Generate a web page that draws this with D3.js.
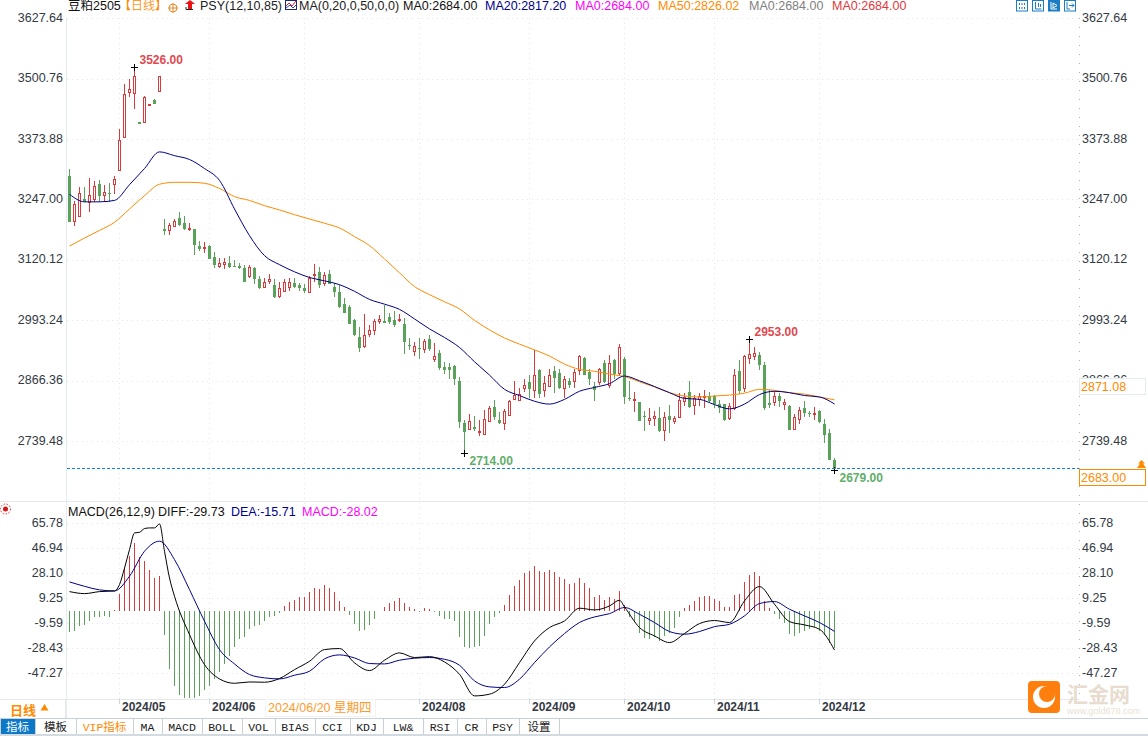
<!DOCTYPE html>
<html>
<head>
<meta charset="utf-8">
<title>豆粕2505</title>
<script src="https://cdn.jsdelivr.net/npm/d3@7/dist/d3.min.js"></script>
<style>
html, body { margin: 0; padding: 0; background: #fff; }
svg { display: block; }
text { font-family: "Liberation Sans", "Noto Sans CJK SC", sans-serif; font-size: 12.5px; }
.axis path, .axis line { display: none; }
.axis text { fill: #333a44; font-family: "Liberation Sans", sans-serif; font-size: 12.5px; }
.months text { font-weight: bold; font-size: 12px; fill: #333a44; }
.tool { font-family: "Liberation Mono", "Noto Sans CJK SC", monospace; font-size: 11.5px; fill: #222; }
</style>
</head>
<body>
<div id="chart"></div>
<script>
var width = 1148,
    height = 736;

// daily candles, 154 sessions
var opens = [3296,3201,3212,3247,3241,3247,3279,3255,3260,3279,
    3307,3378,3471,3469,3409,3408,3446,3457,3473,3184,
    3182,3191,3207,3197,3184,3184,3150,3145,3150,3127,
    3106,3111,3114,3107,3108,3104,3086,3104,3079,3062,
    3074,3068,3043,3053,3062,3072,3068,3062,3051,3087,
    3095,3070,3091,3064,3053,3028,3022,2994,2959,2938,
    2963,2971,2991,2992,3000,2994,2992,2986,2942,2928,
    2935,2931,2954,2910,2925,2895,2895,2897,2866,2777,
    2763,2769,2757,2754,2780,2811,2784,2777,2794,2826,
    2824,2849,2864,2845,2889,2845,2855,2887,2883,2849,
    2866,2864,2887,2914,2885,2855,2862,2904,2857,2910,
    2881,2912,2829,2824,2822,2793,2782,2786,2788,2761,
    2792,2780,2788,2822,2843,2815,2826,2830,2834,2834,
    2817,2817,2786,2807,2887,2849,2912,2916,2921,2900,
    2820,2820,2834,2817,2813,2763,2784,2809,2799,2796,
    2803,2775,2756,2699];
var highs = [3310,3243,3274,3273,3293,3285,3287,3277,3281,3296,
    3396,3489,3500,3526,3409,3464,3447,3459,3507,3205,
    3198,3205,3220,3213,3198,3184,3159,3157,3152,3136,
    3123,3124,3129,3119,3114,3110,3110,3106,3087,3081,
    3091,3079,3074,3079,3081,3081,3072,3070,3087,3112,
    3106,3094,3098,3072,3068,3039,3025,2996,2978,3007,
    2984,2996,3005,3026,3009,3013,3007,2998,2956,2948,
    2956,2954,2962,2946,2931,2906,2904,2900,2874,2784,
    2796,2792,2784,2805,2813,2826,2801,2807,2826,2866,
    2851,2870,2878,2931,2891,2876,2891,2897,2891,2876,
    2872,2891,2921,2916,2891,2864,2893,2910,2921,2912,
    2944,2916,2866,2843,2822,2803,2809,2803,2811,2801,
    2815,2792,2841,2841,2866,2836,2841,2847,2843,2836,
    2826,2817,2820,2891,2910,2921,2953,2937,2927,2906,
    2847,2845,2841,2828,2815,2796,2811,2824,2803,2811,
    2805,2786,2765,2704];
var lows = [3199,3192,3212,3241,3220,3241,3241,3241,3241,3258,
    3307,3378,3463,3437,3406,3408,3446,3448,3473,3173,
    3173,3189,3192,3182,3180,3131,3138,3135,3121,3104,
    3104,3100,3104,3106,3100,3074,3081,3070,3058,3062,
    3070,3039,3039,3053,3055,3060,3055,3051,3051,3074,
    3060,3066,3070,3043,3018,3009,2986,2961,2927,2935,
    2959,2963,2986,2988,2985,2980,2990,2923,2931,2919,
    2912,2925,2929,2906,2889,2881,2870,2857,2767,2714,
    2763,2761,2750,2754,2780,2784,2775,2763,2792,2826,
    2824,2843,2830,2829,2830,2832,2853,2841,2849,2830,
    2851,2851,2878,2878,2857,2824,2857,2862,2851,2870,
    2876,2817,2824,2801,2782,2761,2773,2771,2758,2740,
    2756,2775,2788,2813,2809,2794,2813,2809,2822,2809,
    2798,2782,2784,2805,2838,2843,2902,2910,2889,2805,
    2809,2813,2811,2805,2763,2763,2775,2790,2790,2784,
    2777,2735,2699,2679];
var closes = [3199,3237,3259,3242,3255,3274,3255,3262,3258,3289,
    3371,3468,3479,3506,3406,3462,3447,3448,3506,3180,
    3192,3201,3194,3184,3187,3152,3142,3146,3121,3110,
    3112,3114,3106,3106,3104,3074,3103,3079,3060,3072,
    3079,3041,3060,3072,3072,3063,3060,3055,3081,3089,
    3068,3088,3070,3053,3020,3009,2986,2963,2935,2961,
    2971,2990,2994,2988,2990,2984,2994,2948,2940,2939,
    2934,2948,2933,2916,2893,2889,2889,2870,2780,2759,
    2780,2765,2759,2784,2807,2790,2777,2801,2822,2836,
    2838,2857,2849,2878,2838,2860,2878,2872,2851,2868,
    2857,2883,2916,2878,2870,2847,2889,2864,2902,2881,
    2935,2832,2827,2826,2782,2791,2786,2792,2761,2788,
    2784,2786,2824,2830,2811,2828,2832,2832,2824,2817,
    2809,2784,2811,2878,2845,2916,2921,2923,2900,2809,
    2815,2832,2824,2820,2763,2788,2803,2798,2798,2797,
    2780,2752,2699,2680];

// moving averages, read every third session
var ma20 = [3258,3242,3242,3245,3278,3312,3347,3339,3331,3312,3287,3227,3171,
    3129,3110,3095,3083,3076,3068,3054,3037,3027,3016,2996,2975,2957,2936,
    2906,2878,2848,2835,2823,2817,2827,2844,2852,2860,2876,2866,2854,2841,
    2829,2827,2816,2807,2817,2837,2844,2841,2835,2832,2817.2];
var ma50 = [3149,3166,3182,3199,3227,3255,3279,3283,3283,3281,3270,3253,3245,
    3234,3225,3215,3206,3197,3187,3169,3150,3122,3093,3064,3047,3032,3017,
    2993,2973,2956,2943,2931,2918,2901,2890,2886,2880,2875,2864,2853,2841,
    2834,2832,2834,2836,2840,2848,2846,2841,2838,2832,2826];
var maSessions = d3.range(0, 154, 3);

// MACD histogram, one bar per session
var macdBars = [-16.4,-15.1,-11.8,-10.6,-8.1,-4.7,-4.7,-3.8,-4.5,0.5,
    12.8,32.2,40.9,51,40.5,37.7,30.9,24.6,25.8,-18.1,
    -43.7,-57,-63.3,-65.8,-65.8,-65.8,-64.1,-59.5,-56.5,-51.5,
    -46.5,-39.9,-34.4,-27.7,-21.3,-20.1,-13.6,-11.3,-10.6,-7.5,
    -4.7,-4.3,-1.7,3.2,6.6,8.3,10,10,14.3,17.3,
    16.6,19.1,17.1,14.3,7.5,2.5,-3.5,-9.8,-15.6,-14.3,
    -11.1,-6,-0.2,3,5.8,7.5,9.3,5.5,2.5,1,
    -0.8,1.7,1,-0.8,-4.3,-6.6,-6.6,-8.1,-20.1,-27.7,
    -28.1,-27.7,-26.4,-19.1,-10.3,-4.7,-2,4,11.5,18.3,
    22.8,28.1,29.6,33.4,29.6,29.2,30.4,28.9,25.1,23.6,
    19.8,20.6,24.3,20.6,16.8,10,11.5,7.8,10,8.5,
    14.5,4,-5,-8.8,-17.1,-20.9,-21.6,-20.1,-23.1,-19.4,
    -17.1,-13.3,-5,1.7,4,7,10,10.8,10.8,8.5,
    7,2.5,2.5,11.5,12.3,21.3,26.6,28.9,25.8,7,
    1.7,-2.8,-6.6,-9.6,-17.9,-19.4,-17.1,-15.6,-14.1,-12.6,
    -15.6,-18.6,-24.6,-28.02];

// DIFF moves fast around the May peak, so it has more readings there
var diffSessions = [0,3,6,9,10,11,12,13,14,15,16,17,18,19,20]
    .concat(d3.range(21, 109, 3), [110], d3.range(111, 154, 3));
var diff = [14.3,12.8,14.3,14.8,19.6,32,46,58.5,59,61.8,62.3,62.3,65.3,44.7,24.6,
    10.8,-18.1,-40.7,-51.5,-54.8,-53.8,-54,-51.2,-44.5,-38.2,-29.4,-28.6,-39.4,-45.2,-37.4,
    -31.9,-35.4,-34.7,-38.7,-48,-64.3,-63,-55.5,-39.2,-22.9,-12.8,-7.8,1.8,0.5,3.5,
    7.8,2.8,-12.8,-19.1,-24.1,-17.3,-9.8,-7.5,-9,7.3,18.1,4.8,-8.3,-10.8,-14.1,-29.73];
var dea = [21.6,18.3,15.6,14.8,25.9,44.7,52.3,38.4,15.8,-8,-29.4,-40.2,-48.2,
    -50.7,-51.5,-48.7,-45.7,-36.4,-33.4,-35.7,-39.9,-40.2,-37.4,-35.9,-35.4,-36.7,
    -41.2,-53,-57.5,-58,-51.7,-39.2,-27.4,-17.3,-9,-4.8,-2.3,2.3,-2.8,-9,-15.8,
    -17.8,-15.8,-12.1,-10.3,-4,5.3,6.8,1,-4,-9,-15.71];

var priceTicks = [3627.64,3500.76,3373.88,3247,3120.12,2993.24,2866.36,2739.48];
var macdTicks = [65.78,46.94,28.10,9.25,-9.59,-28.43,-47.27];
var monthSessions = [10,28,47,70,92,111,129,150];
// the July label sits under the date tip in the picture, so it is not labelled
var labelSessions = [10,28,70,92,111,129,150];
var monthLabels = ["2024/05","2024/06","2024/08","2024/09","2024/10","2024/11","2024/12"];

var lastPrice = 2683;
var markedPrice = 2871.08;
var peaks = [{i: 13, v: 3526}, {i: 136, v: 2953}];
var troughs = [{i: 79, v: 2714}, {i: 153, v: 2679}];

var red = "#d83b3b",
    green = "#5aa25a",
    navy = "#00008b",
    orange = "#ff8a00";

var svg = d3.select("#chart")
    .append("svg")
    .attr("width", width)
    .attr("height", height);

var x = d3.scaleLinear().domain([0, 153]).range([69.5, 834.5]);
var y = d3.scaleLinear().domain([3627.64, 2739.48]).range([18.3, 441]);
var yM = d3.scaleLinear().domain([65.78, -47.27]).range([523.3, 673.3]);

var sessions = d3.range(154);

// grid
var grid = svg.append("g")
    .attr("stroke", "#e3e6e8")
    .attr("stroke-dasharray", "1,4");
grid.selectAll(".gp").data(priceTicks).enter().append("line")
    .attr("x1", 67).attr("x2", 1079)
    .attr("y1", function (d) { return Math.round(y(d)) + 0.5; })
    .attr("y2", function (d) { return Math.round(y(d)) + 0.5; });
grid.selectAll(".gm").data(macdTicks).enter().append("line")
    .attr("x1", 67).attr("x2", 1079)
    .attr("y1", function (d) { return Math.round(yM(d)) + 0.5; })
    .attr("y2", function (d) { return Math.round(yM(d)) + 0.5; });
grid.selectAll(".gv").data(monthSessions).enter().append("line")
    .attr("x1", function (d) { return x(d); })
    .attr("x2", function (d) { return x(d); })
    .attr("y1", 18).attr("y2", 699);

// frame
svg.append("line").attr("x1", 66.5).attr("x2", 66.5).attr("y1", 18).attr("y2", 718).attr("stroke", "#e2ecf1");
svg.append("line").attr("x1", 1079.5).attr("x2", 1079.5).attr("y1", 18).attr("y2", 699)
    .attr("stroke", "#a9adb2").attr("stroke-dasharray", "1,8");
svg.append("line").attr("x1", 0).attr("x2", width).attr("y1", 501.5).attr("y2", 501.5).attr("stroke", "#e4e8ec");
svg.append("line").attr("x1", 0).attr("x2", 1079).attr("y1", 699.5).attr("y2", 699.5).attr("stroke", "#e4e8ec");

// candles
var candle = svg.append("g").selectAll("g")
    .data(sessions)
    .enter().append("g")
    .attr("shape-rendering", "crispEdges");

candle.append("line")
    .attr("x1", function (i) { return x(i); })
    .attr("x2", function (i) { return x(i); })
    .attr("y1", function (i) { return y(highs[i]); })
    .attr("y2", function (i) { return y(lows[i]); })
    .attr("stroke", function (i) { return closes[i] >= opens[i] ? red : green; });

candle.append("rect")
    .attr("x", function (i) { return closes[i] >= opens[i] ? x(i) - 1 : x(i) - 1.5; })
    .attr("width", function (i) { return closes[i] >= opens[i] ? 2 : 3; })
    .attr("y", function (i) { return y(Math.max(opens[i], closes[i])); })
    .attr("height", function (i) {
        return Math.max(1, Math.abs(y(opens[i]) - y(closes[i])));
    })
    .attr("fill", function (i) { return closes[i] >= opens[i] ? "#fff" : green; })
    .attr("stroke", function (i) { return closes[i] >= opens[i] ? red : "none"; });

// moving averages
function drawLine(sel, idx, values, scale, color) {
    var line = d3.line()
        .curve(d3.curveMonotoneX)
        .x(function (d, k) { return x(idx[k]); })
        .y(function (d) { return scale(d); });
    sel.append("path")
        .datum(values)
        .attr("d", line)
        .attr("fill", "none")
        .attr("stroke", color)
        .attr("stroke-width", 1);
}
drawLine(svg, maSessions, ma50, y, orange);
drawLine(svg, maSessions, ma20, y, navy);

// extreme markers
var marks = peaks.concat(troughs);
svg.selectAll(".cross").data(marks).enter().append("path")
    .attr("shape-rendering", "crispEdges")
    .attr("stroke", "#000")
    .attr("d", function (d) {
        var cx = x(d.i), cy = Math.round(y(d.v)) + 0.5;
        return "M" + (cx - 3.5) + "," + cy + "H" + (cx + 3.5) + "M" + cx + "," + (cy - 3.5) + "V" + (cy + 3.5);
    });
svg.selectAll(".peak").data(peaks).enter().append("text")
    .attr("x", function (d) { return x(d.i) + 5; })
    .attr("y", function (d) { return y(d.v) - 3; })
    .attr("fill", "#e0494f")
    .attr("font-weight", "bold")
    .style("font-size", "12px")
    .text(function (d) { return d.v.toFixed(2); });
svg.selectAll(".trough").data(troughs).enter().append("text")
    .attr("x", function (d) { return x(d.i) + 5; })
    .attr("y", function (d) { return y(d.v) + 12; })
    .attr("fill", "#5fae6a")
    .attr("font-weight", "bold")
    .style("font-size", "12px")
    .text(function (d) { return d.v.toFixed(2); });

// last price line
svg.append("line")
    .attr("x1", 67).attr("x2", 1079)
    .attr("y1", Math.round(y(lastPrice)) + 0.5).attr("y2", Math.round(y(lastPrice)) + 0.5)
    .attr("stroke", "#0a7df0")
    .attr("stroke-dasharray", "3,2");

// MACD histogram and lines
svg.append("g").selectAll("line")
    .data(sessions)
    .enter().append("line")
    .attr("shape-rendering", "crispEdges")
    .attr("x1", function (i) { return x(i); })
    .attr("x2", function (i) { return x(i); })
    .attr("y1", yM(0))
    .attr("y2", function (i) { return yM(macdBars[i]); })
    .attr("stroke", function (i) { return macdBars[i] >= 0 ? red : green; });
drawLine(svg, maSessions, dea, yM, navy);
drawLine(svg, diffSessions, diff, yM, "#000");

// axes
var priceFmt = function (d) { return d.toFixed(2); };
svg.append("g").attr("class", "axis").attr("transform", "translate(63,-1)")
    .call(d3.axisLeft(y).tickValues(priceTicks).tickFormat(priceFmt).tickSize(0).tickPadding(0));
svg.append("g").attr("class", "axis").attr("transform", "translate(1082,-1)")
    .call(d3.axisRight(y).tickValues(priceTicks).tickFormat(priceFmt).tickSize(0).tickPadding(0));
svg.append("g").attr("class", "axis").attr("transform", "translate(63,-1)")
    .call(d3.axisLeft(yM).tickValues(macdTicks).tickFormat(priceFmt).tickSize(0).tickPadding(0));
svg.append("g").attr("class", "axis").attr("transform", "translate(1082,-1)")
    .call(d3.axisRight(yM).tickValues(macdTicks).tickFormat(priceFmt).tickSize(0).tickPadding(0));

var monthAxis = d3.axisBottom(x)
    .tickValues(labelSessions)
    .tickFormat(function (d, k) { return monthLabels[k]; })
    .tickSize(0)
    .tickPadding(0);
var months = svg.append("g").attr("class", "axis months")
    .attr("transform", "translate(0,701)")
    .call(monthAxis);
months.selectAll("text").attr("text-anchor", "start").attr("dx", 2).attr("dy", "0.8em");
svg.selectAll(".mt").data(monthSessions).enter().append("line")
    .attr("x1", function (d) { return x(d); })
    .attr("x2", function (d) { return x(d); })
    .attr("y1", 699).attr("y2", 704)
    .attr("stroke", "#cfd6dc");

// crosshair date
svg.append("rect").attr("x", 265.5).attr("y", 699.5).attr("width", 110).attr("height", 17)
    .attr("fill", "#fff").attr("stroke", "#f2f2f2");
svg.append("text").attr("x", 268).attr("y", 712).attr("fill", "#ff9a2e").text("2024/06/20 星期四");

// price boxes on the right
svg.append("rect").attr("x", 1079.5).attr("y", 378.5).attr("width", 66).attr("height", 16)
    .attr("fill", "#fff").attr("stroke", "#e4ecf0");
svg.append("text").attr("x", 1081).attr("y", 391).attr("fill", orange).text(markedPrice.toFixed(2));
svg.append("rect").attr("x", 1079.5).attr("y", 469.5).attr("width", 66).attr("height", 16)
    .attr("fill", "#fff").attr("stroke", orange);
svg.append("text").attr("x", 1081).attr("y", 482).attr("fill", orange).text(lastPrice.toFixed(2));
svg.append("path").attr("fill", orange)
    .attr("d", "M1141.5,460l3.5,3.5h-2l3,4.5h-9l3,-4.5h-2z");

// header legend
var header = [
    {x: 68, t: "豆粕2505", c: "#111"},
    {x: 200, t: "PSY(12,10,85)", c: "#222"},
    {x: 299, t: "MA(0,20,0,50,0,0)", c: "#222"},
    {x: 403, t: "MA0:2684.00", c: "#111"},
    {x: 485, t: "MA20:2817.20", c: navy},
    {x: 575, t: "MA0:2684.00", c: "#ff00ff"},
    {x: 658, t: "MA50:2826.02", c: orange},
    {x: 749, t: "MA0:2684.00", c: "#808080"},
    {x: 832, t: "MA0:2684.00", c: "#e0393e"}
];
svg.selectAll(".hd").data(header).enter().append("text")
    .attr("x", function (d) { return d.x; })
    .attr("y", 10)
    .attr("fill", function (d) { return d.c; })
    .text(function (d) { return d.t; });

var period = svg.append("text").attr("x", 119).attr("y", 10).style("font-size", "12px");
period.append("tspan").attr("fill", "#ff8a00").text("【");
period.append("tspan").attr("fill", "#ff9a2e").text("日线");
period.append("tspan").attr("fill", "#ff8a00").text("】");

var macdHeader = [
    {x: 68, t: "MACD(26,12,9)", c: "#111"},
    {x: 158, t: "DIFF:-29.73", c: "#111"},
    {x: 231, t: "DEA:-15.71", c: navy},
    {x: 302, t: "MACD:-28.02", c: "#ff00ff"}
];
svg.selectAll(".md").data(macdHeader).enter().append("text")
    .attr("x", function (d) { return d.x; })
    .attr("y", 516)
    .attr("fill", function (d) { return d.c; })
    .text(function (d) { return d.t; });

// small header glyphs
var target = svg.append("g").attr("fill", "none").attr("stroke", "#f08a2c");
target.append("circle").attr("cx", 173).attr("cy", 8).attr("r", 4);
target.append("path").attr("d", "M168,8H178M173,3V13");
svg.append("path").attr("fill", "#f01010").attr("d", "M190,0l5,4h-3v5h-4v-5h-3z");
svg.append("path").attr("fill", "none").attr("stroke", "#222").attr("d", "M186,7V9.5H193");
var maIcon = svg.append("g").attr("fill", "none");
maIcon.append("rect").attr("x", 285.5).attr("y", 0.5).attr("width", 11).attr("height", 9).attr("stroke", "#1b2a78");
maIcon.append("path").attr("stroke", "#e02020").attr("d", "M286,6L289,3L292,6L296,1");
maIcon.append("path").attr("stroke", "#2040c0").attr("d", "M286,8L290,5L293,8L296,5");

// the four view buttons, third one active
var buttons = [1016, 1032, 1048, 1064];
var buttonGlyphs = [
    "M3.5,3V5M3.5,7V9M6,3V5M6,7V9M8.5,3V5M8.5,7V9",
    "M3.5,2V9M3.5,9H9.5M6.5,3V7M8.5,4V7",
    "M3,2V9H9M5,3L9,5.5L5,8Z",
    "M3,2V9H6M5,5.5H10M8,3.5L10,5.5L8,7.5"
];
svg.selectAll(".btn").data(buttons).enter().append("rect")
    .attr("x", function (d) { return d + 0.5; })
    .attr("y", 0.5)
    .attr("width", 11).attr("height", 10.5)
    .attr("stroke", "#1c7cc4")
    .attr("fill", function (d, k) { return k === 2 ? "#1c7cc4" : "#fff"; });
svg.selectAll(".btng").data(buttons).enter().append("path")
    .attr("fill", "none")
    .attr("stroke", function (d, k) { return k === 2 ? "#fff" : "#1c7cc4"; })
    .attr("transform", function (d) { return "translate(" + d + ",0)"; })
    .attr("d", function (d, k) { return buttonGlyphs[k]; });

// red target at the MACD panel corner
var sun = svg.append("g");
sun.append("circle").attr("cx", 5.5).attr("cy", 509).attr("r", 2.5).attr("fill", "#d01818");
sun.append("circle").attr("cx", 5.5).attr("cy", 509).attr("r", 5).attr("fill", "none")
    .attr("stroke", "#e03030").attr("stroke-dasharray", "1.5,1.5");

// period switch
svg.append("line").attr("x1", 65.5).attr("x2", 65.5).attr("y1", 699).attr("y2", 718).attr("stroke", "#e4e8ec");
svg.append("text").attr("x", 10).attr("y", 715).attr("fill", "#ff8a00")
    .attr("font-weight", "bold").style("font-size", "13px").text("日线");
svg.append("path").attr("fill", "#ff8a00").attr("d", "M44.5,704l4,6.5h-8z");

// bottom tool strip
var toolLabels = ["指标","模板","VIP指标","MA","MACD","BOLL","VOL","BIAS","CCI","KDJ","LW&","RSI","CR","PSY","设置"];
var toolEdges = [0,35,76,133,162,202,242,275,315,350,383,423,457,486,519,559];

svg.append("rect").attr("x", 0).attr("y", 734).attr("width", width).attr("height", 2).attr("fill", "#d3dae0");
svg.append("line").attr("x1", 0).attr("x2", width).attr("y1", 718.5).attr("y2", 718.5).attr("stroke", "#c9d1d8");
svg.append("rect").attr("x", 0).attr("y", 719).attr("width", 35).attr("height", 15).attr("fill", "#0b78c8");
svg.selectAll(".te").data(toolEdges).enter().append("line")
    .attr("x1", function (d) { return d + 0.5; })
    .attr("x2", function (d) { return d + 0.5; })
    .attr("y1", 719).attr("y2", 734)
    .attr("stroke", "#c9d1d8");
svg.selectAll(".tl").data(toolLabels).enter().append("text")
    .attr("class", "tool")
    .attr("x", function (d, k) { return (toolEdges[k] + toolEdges[k + 1]) / 2; })
    .attr("y", 731)
    .attr("text-anchor", "middle")
    .style("fill", function (d, k) { return k === 0 ? "#fff" : k === 2 ? "#ff8a00" : "#222"; })
    .text(function (d) { return d; });

// logo and site name
svg.append("rect").attr("x", 1028).attr("y", 681).attr("width", 32).attr("height", 32).attr("rx", 4).attr("fill", "#ff7f0e");
svg.append("circle").attr("cx", 1044).attr("cy", 697).attr("r", 11).attr("fill", "#fff");
svg.append("circle").attr("cx", 1047).attr("cy", 694).attr("r", 8).attr("fill", "#ff7f0e");
svg.append("text").attr("x", 1067).attr("y", 702).attr("fill", "#e8dccf")
    .attr("font-weight", "bold").style("font-size", "21px").text("汇金网");
svg.append("text").attr("x", 1067).attr("y", 714).attr("fill", "#eadfd3")
    .style("font-size", "9px").text("www.gold678.com");
</script>
</body>
</html>
